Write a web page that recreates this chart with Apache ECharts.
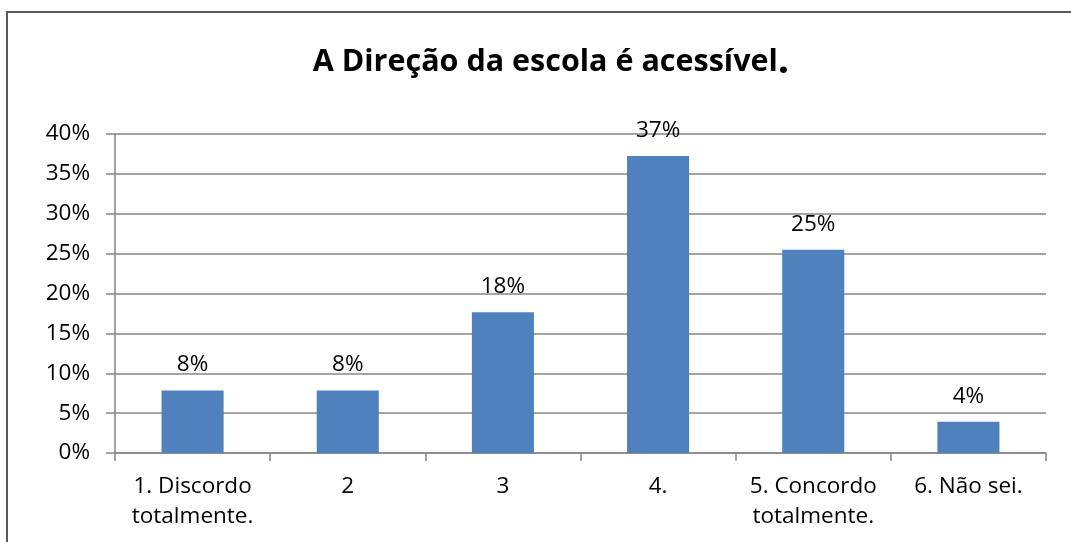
<!DOCTYPE html>
<html>
<head>
<meta charset="utf-8">
<script src="https://cdn.jsdelivr.net/npm/echarts@6/dist/echarts.min.js"></script>
<style>
  html, body { margin: 0; padding: 0; background: #ffffff; }
  #chart { width: 1071px; height: 542px; }
</style>
</head>
<body>
<div id="chart"></div>
<script>
// Answer categories (x axis)
const categories = ['1. Discordo\ntotalmente.', '2', '3', '4.', '5. Concordo\ntotalmente.', '6. Não sei.'];
// Share of responses per category, in percent
const shares = [7.84, 7.84, 17.65, 37.25, 25.49, 3.92];
// Y axis range and step, in percent
const yMin = 0;
const yMax = 40;
const yStep = 5;

const FONT = '"Open Sans", "Noto Sans", sans-serif';
const GRID_GREY = '#868686';
const LABEL_SIZE = 22.5;

const chart = echarts.init(document.getElementById('chart'), null, { renderer: 'canvas' });

chart.setOption({
  backgroundColor: '#ffffff',
  animation: false,
  title: {
    text: '{t|A Direção da escola é acessível}{p|.}',
    left: 546,
    top: 37,
    textAlign: 'center',
    textStyle: {
      rich: {
        t: { fontFamily: FONT, fontWeight: 'bold', fontSize: 30.5, color: '#000000' },
        p: { fontFamily: FONT, fontWeight: 'bold', fontSize: 40, color: '#000000' }
      }
    }
  },
  graphic: [{
    type: 'rect',
    silent: true,
    shape: { x: 7, y: 12, width: 1200, height: 700 },
    style: { fill: 'none', stroke: '#595959', lineWidth: 2 }
  }],
  grid: { left: 115, right: 25, top: 134, bottom: 89 },
  xAxis: {
    type: 'category',
    data: categories,
    boundaryGap: true,
    axisLine: { lineStyle: { color: GRID_GREY, width: 1.5 } },
    axisTick: { show: true, length: 8, lineStyle: { color: GRID_GREY, width: 1.5 } },
    axisLabel: {
      interval: 0,
      margin: 19,
      fontFamily: FONT,
      fontSize: LABEL_SIZE,
      lineHeight: 30,
      color: '#000000'
    }
  },
  yAxis: {
    type: 'value',
    min: yMin,
    max: yMax,
    interval: yStep,
    axisLine: { show: true, lineStyle: { color: GRID_GREY, width: 1.5 } },
    axisTick: { show: true, length: 9, lineStyle: { color: GRID_GREY, width: 1.5 } },
    splitLine: { show: true, lineStyle: { color: GRID_GREY, width: 1.5 } },
    axisLabel: {
      margin: 25,
      fontFamily: FONT,
      fontSize: LABEL_SIZE,
      color: '#000000',
      formatter: '{value}%'
    }
  },
  series: [{
    type: 'bar',
    data: shares,
    barWidth: '40%',
    itemStyle: { color: '#4F81BD' },
    label: {
      show: true,
      position: 'top',
      distance: 14,
      fontFamily: FONT,
      fontSize: LABEL_SIZE,
      color: '#000000',
      formatter: (p) => Math.round(p.value) + '%'
    }
  }]
});
</script>
</body>
</html>
